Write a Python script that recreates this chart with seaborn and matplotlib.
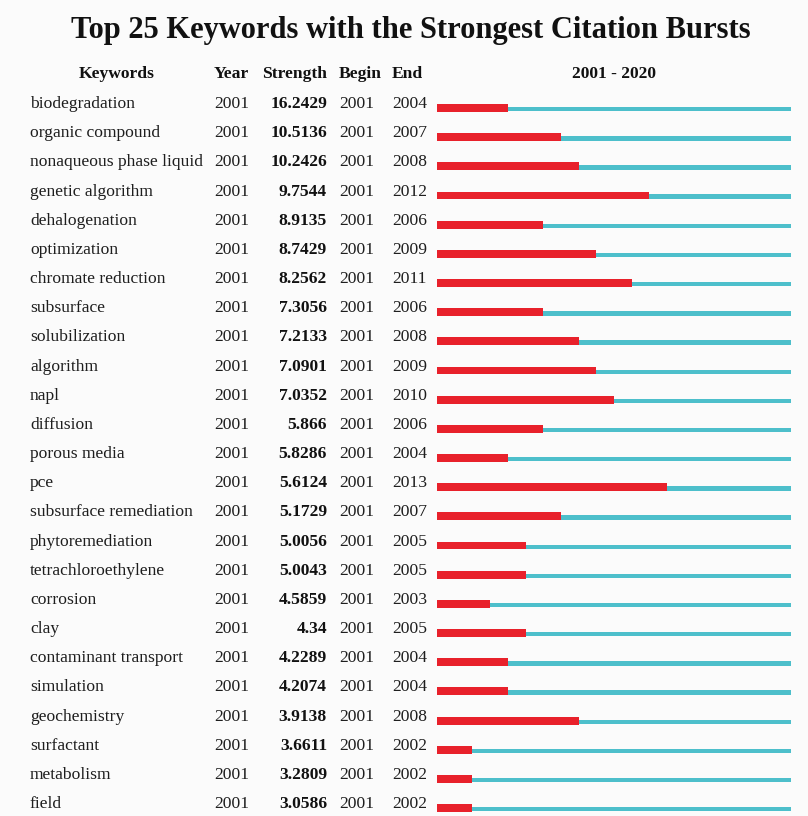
import matplotlib
matplotlib.use("Agg")
import matplotlib.pyplot as plt
import matplotlib.transforms as mtransforms
import pandas as pd
import seaborn as sns

keywords = [
    "biodegradation", "organic compound", "nonaqueous phase liquid",
    "genetic algorithm", "dehalogenation", "optimization",
    "chromate reduction", "subsurface", "solubilization", "algorithm",
    "napl", "diffusion", "porous media", "pce", "subsurface remediation",
    "phytoremediation", "tetrachloroethylene", "corrosion", "clay",
    "contaminant transport", "simulation", "geochemistry", "surfactant",
    "metabolism", "field",
]
year = [2001] * 25
strength = [
    "16.2429", "10.5136", "10.2426", "9.7544", "8.9135", "8.7429", "8.2562",
    "7.3056", "7.2133", "7.0901", "7.0352", "5.866", "5.8286", "5.6124",
    "5.1729", "5.0056", "5.0043", "4.5859", "4.34", "4.2289", "4.2074",
    "3.9138", "3.6611", "3.2809", "3.0586",
]
begin = [2001] * 25
end = [
    2004, 2007, 2008, 2012, 2006, 2009, 2011, 2006, 2008, 2009, 2010, 2006,
    2004, 2013, 2007, 2005, 2005, 2003, 2005, 2004, 2004, 2008, 2002, 2002,
    2002,
]
span_start, span_end = 2001, 2020
headers = ["Keywords", "Year", "Strength", "Begin", "End"]
period_label = f"{span_start} - {span_end}"

RED = "#E8212B"
CYAN = "#4DBFCB"
BG = "#FBFBFB"

sns.set_theme(style="white")
plt.rcParams["font.family"] = ["Liberation Serif", "DejaVu Serif"]

W, H = 808, 816
fig = plt.figure(figsize=(W / 100, H / 100), dpi=100, facecolor=BG)

# Bar panel: one row per keyword, x measured in years from the start of the span
top_px, row_px, first_row_px = 90, 29.17, 108
ax = fig.add_axes([437 / W, 0, 354 / W, (H - top_px) / H])
ax.set_facecolor(BG)

df = pd.DataFrame({
    "keyword": keywords,
    "full": [span_end - span_start + 1] * len(keywords),
    "burst": [e - b + 1 for b, e in zip(begin, end)],
})
sns.barplot(data=df, x="full", y="keyword", orient="h", color=CYAN,
            width=0.15, linewidth=0, saturation=1, ax=ax)
# the thin timeline sits a touch below the burst bar's centre line
for p in ax.containers[0]:
    p.set_y(p.get_y() + 0.04)
sns.barplot(data=df, x="burst", y="keyword", orient="h", color=RED,
            width=0.27, linewidth=0, saturation=1, ax=ax)

ax.set_xlim(0, span_end - span_start + 1)
y_top = (top_px - first_row_px) / row_px
y_bot = (H - first_row_px) / row_px
ax.set_ylim(y_bot, y_top)
ax.set_axis_off()

# Table text: x in figure pixels, y in row units of the bar panel
def px(x):
    return x / W

tr = mtransforms.blended_transform_factory(fig.transFigure, ax.transData)
fs = 12.6
base = 0.0
for i in range(len(keywords)):
    y = i + base
    ax.text(px(30), y, keywords[i], transform=tr, ha="left", va="baseline",
            fontsize=fs, color="#1e1e1e")
    ax.text(px(214), y, str(year[i]), transform=tr, ha="left", va="baseline",
            fontsize=fs, color="#1e1e1e")
    ax.text(px(327), y, strength[i], transform=tr, ha="right", va="baseline",
            fontsize=fs, fontweight="bold", color="#111111")
    ax.text(px(339), y, str(begin[i]), transform=tr, ha="left", va="baseline",
            fontsize=fs, color="#1e1e1e")
    ax.text(px(392), y, str(end[i]), transform=tr, ha="left", va="baseline",
            fontsize=fs, color="#1e1e1e")

hy = 1 - 78 / H
hfs = 12.6
fig.text(px(117), hy, headers[0], ha="center", va="baseline", fontsize=hfs,
         fontweight="bold", color="#111111")
fig.text(px(214), hy, headers[1], ha="left", va="baseline", fontsize=hfs,
         fontweight="bold", color="#111111")
fig.text(px(327), hy, headers[2], ha="right", va="baseline", fontsize=hfs,
         fontweight="bold", color="#111111")
fig.text(px(339), hy, headers[3], ha="left", va="baseline", fontsize=hfs,
         fontweight="bold", color="#111111")
fig.text(px(392), hy, headers[4], ha="left", va="baseline", fontsize=hfs,
         fontweight="bold", color="#111111")
fig.text(px(614), hy, period_label, ha="center", va="baseline", fontsize=hfs,
         fontweight="bold", color="#111111")

fig.text(px(411), 1 - 38 / H,
         "Top 25 Keywords with the Strongest Citation Bursts",
         ha="center", va="baseline", fontsize=22, fontweight="bold",
         color="#111111")

fig.savefig("out.png", dpi=100, facecolor=BG)
